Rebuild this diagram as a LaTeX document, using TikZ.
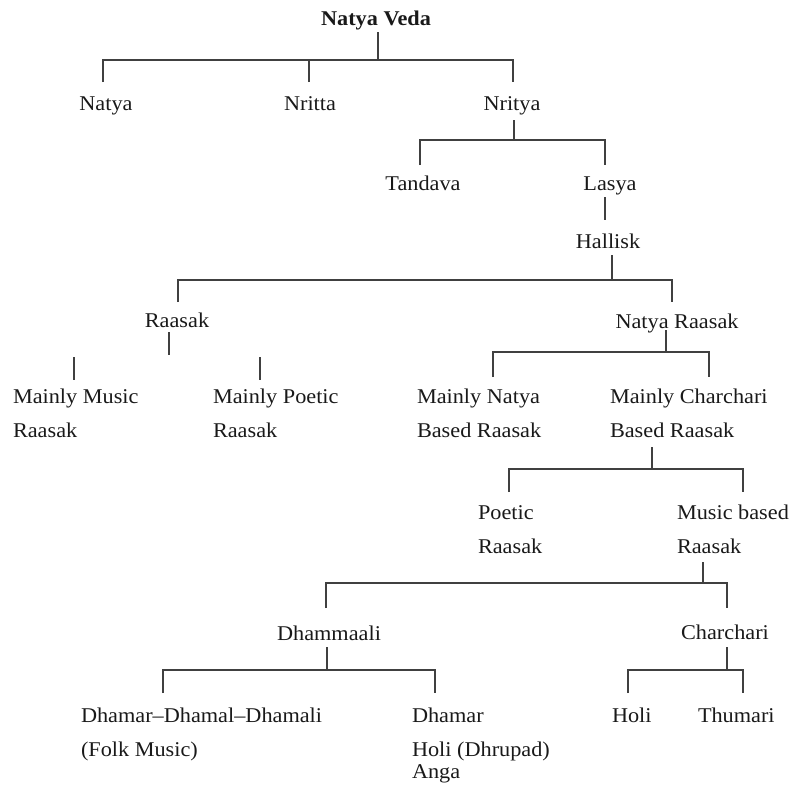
\documentclass[tikz,border=0pt]{standalone}
\usepackage{fontspec}
\setmainfont{Liberation Serif}[FakeStretch=1.06]
\begin{document}
\begin{tikzpicture}[x=1pt,y=-1pt,
  lbl/.style={inner sep=0pt, outer sep=0pt, font=\fontsize{21}{34}\selectfont, text=black!90},
  multi/.style={lbl, align=left, anchor=base west},
  link/.style={draw=black!75, line width=1.3pt}]
\useasboundingbox (0,0) rectangle (789,785);

% ---- labels (multi-line labels are placed by their last baseline) ----
\node[lbl, anchor=base, font=\fontsize{21}{34}\selectfont\bfseries] (veda) at (376,25) {Natya Veda};
\node[lbl, anchor=base] (natya)  at (106,110) {Natya};
\node[lbl, anchor=base] (nritta) at (310,110) {Nritta};
\node[lbl, anchor=base] (nritya) at (512,110) {Nritya};
\node[lbl, anchor=base] (tandava) at (423,190) {Tandava};
\node[lbl, anchor=base] (lasya)  at (610,190) {Lasya};
\node[lbl, anchor=base] (hallisk) at (608,248) {Hallisk};
\node[lbl, anchor=base] (raasak) at (177,327) {Raasak};
\node[lbl, anchor=base] (nraasak) at (677,328) {Natya Raasak};
\node[multi] (music)  at (13,437)  {Mainly Music\\Raasak};
\node[multi] (poetic) at (213,437) {Mainly Poetic\\Raasak};
\node[multi] (mnatya) at (417,437) {Mainly Natya\\Based Raasak};
\node[multi] (mchar)  at (610,437) {Mainly Charchari\\Based Raasak};
\node[multi] (praasak) at (478,553) {Poetic\\Raasak};
\node[multi] (mraasak) at (677,553) {Music based\\Raasak};
\node[lbl, anchor=base] (dhamm) at (329,640) {Dhammaali};
\node[lbl, anchor=base] (charch) at (725,639) {Charchari};
\node[multi] (folk)   at (81,756)  {Dhamar–Dhamal–Dhamali\\(Folk Music)};
\node[multi] (dhamar) at (412,778) {Dhamar\\Holi (Dhrupad)\\[-12pt]Anga};
\node[lbl, anchor=base west] (holi)   at (612,722) {Holi};
\node[lbl, anchor=base west] (thumari) at (698,722) {Thumari};

% ---- connector end points ----
\coordinate (veda-s) at (378,32);  \coordinate (veda-b) at (378,60);
\coordinate (natya-t) at (103,82); \coordinate (nritta-t) at (309,82); \coordinate (nritya-t) at (513,82);
\coordinate (nritya-s) at (514,120); \coordinate (nritya-b) at (514,140);
\coordinate (tandava-t) at (420,165); \coordinate (lasya-t) at (605,165);
\coordinate (lasya-s) at (605,197); \coordinate (hallisk-t) at (605,220);
\coordinate (hallisk-s) at (612,255); \coordinate (hallisk-b) at (612,280);
\coordinate (raasak-t) at (178,302); \coordinate (nraasak-t) at (672,302);
\coordinate (raasak-s) at (169,332); \coordinate (raasak-e) at (169,355);
\coordinate (music-e) at (74,357);  \coordinate (music-t) at (74,380);
\coordinate (poetic-e) at (260,357); \coordinate (poetic-t) at (260,380);
\coordinate (nraasak-s) at (666,330); \coordinate (nraasak-b) at (666,352);
\coordinate (mnatya-t) at (493,377); \coordinate (mchar-t) at (709,377);
\coordinate (mchar-s) at (652,447); \coordinate (mchar-b) at (652,469);
\coordinate (praasak-t) at (509,492); \coordinate (mraasak-t) at (743,492);
\coordinate (mraasak-s) at (703,562); \coordinate (mraasak-b) at (703,583);
\coordinate (dhamm-t) at (326,608); \coordinate (charch-t) at (727,608);
\coordinate (dhamm-s) at (327,647); \coordinate (dhamm-b) at (327,670);
\coordinate (folk-t) at (163,693); \coordinate (dhamar-t) at (435,693);
\coordinate (charch-s) at (727,647); \coordinate (charch-b) at (727,670);
\coordinate (holi-t) at (628,693); \coordinate (thumari-t) at (743,693);

% ---- connectors ----
\draw[link] (veda-s) -- (veda-b);
\draw[link] (natya-t) |- (veda-b) -| (nritya-t);
\draw[link] (nritta-t) -- (nritta-t |- veda-b);

\draw[link] (nritya-s) -- (nritya-b);
\draw[link] (tandava-t) |- (nritya-b) -| (lasya-t);
\draw[link] (lasya-s) -- (hallisk-t);

\draw[link] (hallisk-s) -- (hallisk-b);
\draw[link] (raasak-t) |- (hallisk-b) -| (nraasak-t);

\draw[link] (raasak-s) -- (raasak-e);
\draw[link] (music-e) -- (music-t);
\draw[link] (poetic-e) -- (poetic-t);

\draw[link] (nraasak-s) -- (nraasak-b);
\draw[link] (mnatya-t) |- (nraasak-b) -| (mchar-t);

\draw[link] (mchar-s) -- (mchar-b);
\draw[link] (praasak-t) |- (mchar-b) -| (mraasak-t);

\draw[link] (mraasak-s) -- (mraasak-b);
\draw[link] (dhamm-t) |- (mraasak-b) -| (charch-t);

\draw[link] (dhamm-s) -- (dhamm-b);
\draw[link] (folk-t) |- (dhamm-b) -| (dhamar-t);

\draw[link] (charch-s) -- (charch-b);
\draw[link] (holi-t) |- (charch-b) -| (thumari-t);
\end{tikzpicture}
\end{document}
